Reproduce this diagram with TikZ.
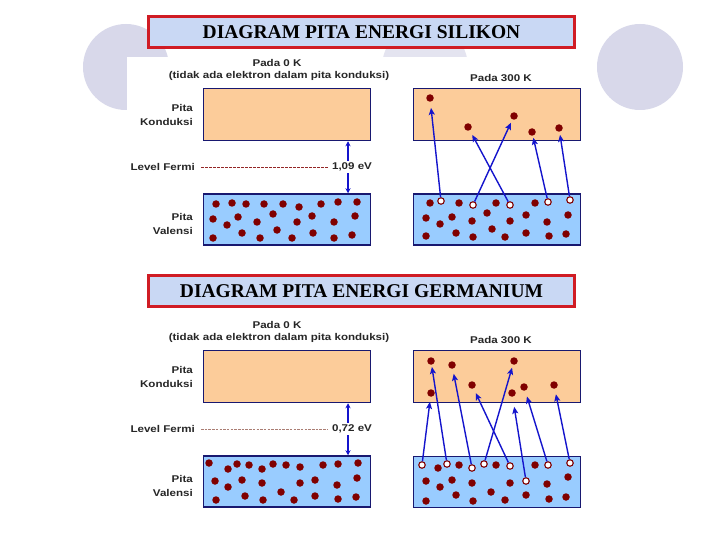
\documentclass[tikz,border=0pt]{standalone}
\usepackage{fontspec}
\usepackage{tikz}
\usetikzlibrary{arrows.meta}
\newfontfamily\slidefont{Liberation Serif}
\newfontfamily\bandfont[FakeStretch=1.18]{Liberation Sans}
\definecolor{lavender}{RGB}{216,216,234}
\definecolor{framered}{RGB}{208,28,36}
\definecolor{titleblue}{RGB}{201,216,244}
\definecolor{condpeach}{RGB}{252,204,154}
\definecolor{valblue}{RGB}{153,204,255}
\definecolor{bandnavy}{RGB}{24,24,112}
\definecolor{dotred}{RGB}{128,0,0}
\definecolor{jumpblue}{RGB}{20,20,204}
\definecolor{fermigrey}{RGB}{170,125,115}

\tikzset{
  titlebox/.style={draw=framered, line width=3pt, fill=titleblue,
    minimum width=426pt, minimum height=31pt, inner sep=0pt,
    font=\slidefont\bfseries\fontsize{19.5}{22}\selectfont},
  condband/.style={draw=bandnavy, line width=1.5pt, fill=condpeach,
    minimum width=167pt, minimum height=52pt, inner sep=0pt},
  valband/.style={condband, fill=valblue, minimum height=51pt},
  lbl/.style={font=\bandfont\bfseries\fontsize{9.8}{14}\selectfont,
    inner sep=1pt, text=black!85},
  hole/.style={circle, draw=dotred, line width=1.1pt, fill=white,
    inner sep=0pt, minimum size=6.5pt},
  elec/.style={circle, fill=dotred, inner sep=0pt, minimum size=7.5pt},
  jump/.style={draw=jumpblue, line width=1.4pt,
    -{Stealth[length=7pt,width=6pt,inset=1.5pt]}},
  gaparrow/.style={draw=jumpblue, line width=1.1pt,
    -{Stealth[length=5pt,width=5pt]}, shorten <=1pt},
}

\begin{document}
\begin{tikzpicture}[x=1pt, y=-1pt]
    \useasboundingbox[fill=white] (0,0) rectangle (720,540);

    % Slide background circles, partly hidden by the pictures.
    \fill[lavender] (126,67) circle (43pt);
    \fill[lavender!70] (425,67) circle (43pt);
    \fill[lavender] (640,67) circle (43pt);
    \fill[white] (127,57) rectangle (592,258);

    % ---------------- Silikon ----------------
    \node[titlebox] (titleS) at (361.5,32) {DIAGRAM PITA ENERGI SILIKON};

    % Pada 0 K.
    \node[lbl] (p0S) at (277,63) {Pada 0 K};
    \node[lbl] (noeS) at (279,76) {(tidak ada elektron dalam pita konduksi)};
    \node[condband] (cbS0) at (287,114.5) {};
    \node[valband] (vbS0) at (287,219.5) {};
    \node[lbl, anchor=east, align=right] (pkS) at (194,115) {Pita\\Konduksi};
    \node[lbl, anchor=east] (lfS) at (196,167) {Level Fermi};
    \node[lbl, anchor=east, align=right] (pvS) at (194,224) {Pita\\Valensi};
    \node[lbl] (egS) at (352,167) {1,09 eV};
    \coordinate (gS) at (348,167);
    \draw[dotred!85, line width=0.9pt, dash pattern=on 2.5pt off 1.5pt,
      shorten <=5pt, shorten >=3pt] (lfS.east) -- (egS.west);
    \draw[gaparrow] (egS.north -| gS) -- (gS |- cbS0.south);
    \draw[gaparrow] (egS.south -| gS) -- (gS |- vbS0.north);
    \foreach \x/\y in {216/204, 232/203, 246/204, 264/204, 283/204, 299/207,
        321/204, 338/202, 357/202, 213/219, 227/225, 238/217, 257/222,
        273/214, 297/222, 312/216, 334/222, 355/216, 213/238, 242/233,
        260/238, 277/230, 292/238, 313/233, 334/238, 352/235}
      \fill[dotred] (\x,\y) circle (3.75pt);

    % Pada 300 K.
    \node[lbl] (p300S) at (501,78) {Pada 300 K};
    \node[condband] (cbS3) at (497,114.5) {};
    \node[valband] (vbS3) at (497,219.5) {};
    \foreach \x/\y in {430/203, 459/203, 496/203, 535/203, 426/218, 440/224,
        452/217, 472/221, 487/213, 510/221, 526/215, 547/222, 568/215,
        426/236, 456/233, 473/237, 492/229, 505/237, 526/233, 549/236, 566/234}
      \fill[dotred] (\x,\y) circle (3.75pt);
    \foreach \n/\x/\y in {e1/430/98, e2/468/127, e3/514/116, e4/532/132,
        e5/559/128}
      \node[elec] (\n) at (\x,\y) {};
    \foreach \n/\x/\y in {h1/441/201, h2/473/205, h3/510/205, h4/548/202,
        h5/570/200}
      \node[hole] (\n) at (\x,\y) {};
    \foreach \h/\e/\s in {h1/e1/6, h2/e3/3.5, h3/e2/5, h4/e4/2, h5/e5/3}
      \draw[jump, shorten >=\s pt] (\h) -- (\e);

    % ---------------- Germanium ----------------
    \node[titlebox] (titleG) at (361.5,291) {DIAGRAM PITA ENERGI GERMANIUM};

    % Pada 0 K.
    \node[lbl] (p0G) at (277,325) {Pada 0 K};
    \node[lbl] (noeG) at (279,338) {(tidak ada elektron dalam pita konduksi)};
    \node[condband] (cbG0) at (287,376.5) {};
    \node[valband] (vbG0) at (287,481.5) {};
    \node[lbl, anchor=east, align=right] (pkG) at (194,377) {Pita\\Konduksi};
    \node[lbl, anchor=east] (lfG) at (196,429) {Level Fermi};
    \node[lbl, anchor=east, align=right] (pvG) at (194,486) {Pita\\Valensi};
    \node[lbl] (egG) at (352,429) {0,72 eV};
    \coordinate (gG) at (348,429);
    \draw[fermigrey, line width=0.6pt, dash pattern=on 2.5pt off 1.2pt,
      shorten <=5pt, shorten >=3pt] (lfG.east) -- (egG.west);
    \draw[gaparrow] (egG.north -| gG) -- (gG |- cbG0.south);
    \draw[gaparrow] (egG.south -| gG) -- (gG |- vbG0.north);
    \foreach \x/\y in {209/463, 228/469, 237/464, 249/465, 262/469, 273/464,
        286/465, 300/467, 323/465, 338/464, 358/463, 215/481, 228/487,
        242/480, 262/483, 300/483, 315/480, 337/485, 357/478, 216/500,
        245/496, 263/500, 281/492, 294/500, 315/496, 338/499, 356/497}
      \fill[dotred] (\x,\y) circle (3.75pt);

    % Pada 300 K.
    \node[lbl] (p300G) at (501,340) {Pada 300 K};
    \node[condband] (cbG3) at (497,376.5) {};
    \node[valband] (vbG3) at (497,482) {};
    \foreach \x/\y in {438/468, 459/465, 496/465, 535/465, 426/481, 440/487,
        452/480, 472/483, 510/483, 547/484, 568/477, 426/501, 456/495,
        473/501, 491/492, 505/500, 526/495, 549/499, 566/497}
      \fill[dotred] (\x,\y) circle (3.75pt);
    \foreach \n/\x/\y in {g1/431/361, g2/452/365, g3/514/361, g4/472/385,
        g5/431/393, g6/512/393, g7/524/387, g8/554/385}
      \node[elec] (\n) at (\x,\y) {};
    \foreach \n/\x/\y in {k1/422/465, k2/447/464, k3/472/468, k4/484/464,
        k5/510/466, k6/526/481, k7/548/465, k8/570/463}
      \node[hole] (\n) at (\x,\y) {};
    \foreach \h/\e/\s in {k1/g5/5, k2/g1/2, k3/g2/5, k4/g3/3, k5/g4/5,
        k6/g6/10, k7/g7/6, k8/g8/5.5}
      \draw[jump, shorten >=\s pt] (\h) -- (\e);
\end{tikzpicture}
\end{document}
